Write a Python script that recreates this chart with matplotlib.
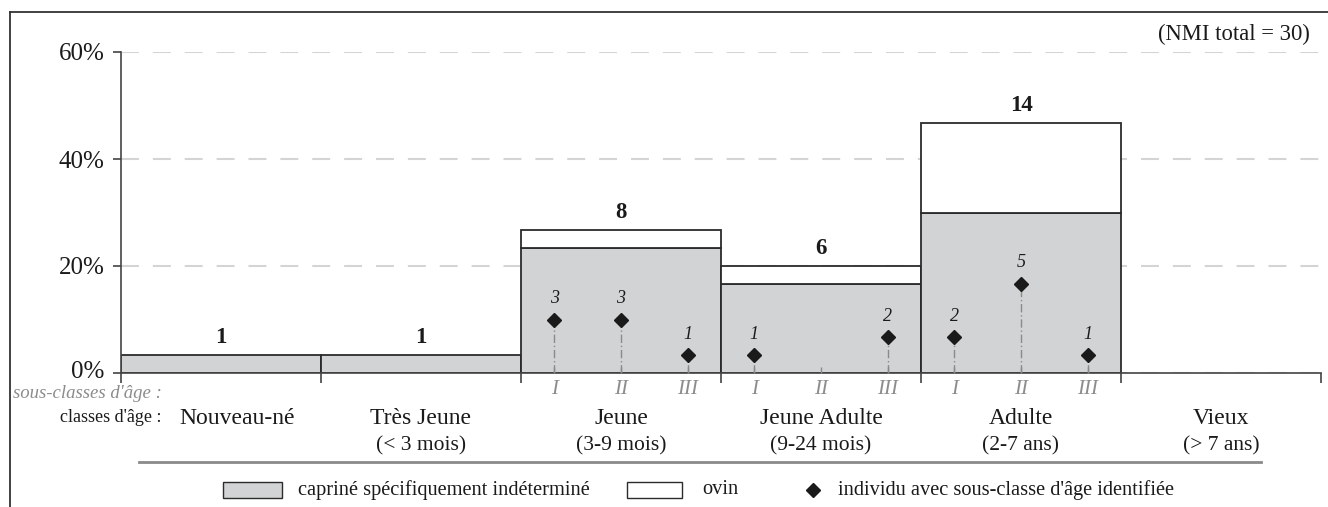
import matplotlib
matplotlib.use("Agg")
import matplotlib.pyplot as plt
from matplotlib import transforms
from matplotlib.patches import Rectangle
from matplotlib.lines import Line2D
from matplotlib.path import Path

plt.rcParams['font.family'] = ['Liberation Serif', 'DejaVu Serif']

# ---- data ----
classes = ["Nouveau-né", "Très Jeune", "Jeune", "Jeune Adulte", "Adulte", "Vieux"]
class_ranges = ["", "(< 3 mois)", "(3-9 mois)", "(9-24 mois)", "(2-7 ans)", "(> 7 ans)"]
caprine = [1, 1, 7, 5, 9, 0]      # capriné spécifiquement indéterminé
ovin = [0, 0, 1, 1, 5, 0]
nmi_total = 30
sub_classes = ["I", "II", "III"]
sub_class_of = [2, 3, 4]          # classes with sub-classes (Jeune, Jeune Adulte, Adulte)
sub_counts = [[3, 3, 1], [1, 0, 2], [2, 5, 1]]
yticks = [0, 20, 40, 60]

W, H = 1328, 507
fig = plt.figure(figsize=(W / 100, H / 100), dpi=100)
ax = fig.add_axes([121 / W, 1 - 373 / H, 1200 / W, 321 / H])

GRAY = "#d1d3d4"
EDGE = "#2b2b2b"
DARK = "#1a1a1a"
SUBGRAY = "#8c8c8c"

totals = [c + o for c, o in zip(caprine, ovin)]
pct_c = [c / nmi_total * 100 for c in caprine]
pct_o = [o / nmi_total * 100 for o in ovin]
xs = list(range(len(classes)))

for i in xs:
    if totals[i] == 0:
        continue
    ax.bar(i, pct_c[i], width=1, align='edge', color=GRAY, edgecolor=EDGE, linewidth=1.3, zorder=2)
    if ovin[i] > 0:
        ax.bar(i, pct_o[i], bottom=pct_c[i], width=1, align='edge', color='white',
               edgecolor=EDGE, linewidth=1.3, zorder=2)
    ax.annotate(str(totals[i]), (i + 0.5, pct_c[i] + pct_o[i]), xytext=(0, 5),
                textcoords='offset points', ha='center', va='bottom',
                fontsize=16.5, fontweight='bold', color=DARK, zorder=5)

# sub-class diamonds
tick_mark = Path([(0, 0), (0, 1)])
sub_off = [1 / 6, 1 / 2, 5 / 6]
for ci, counts in zip(sub_class_of, sub_counts):
    for k, n in enumerate(counts):
        x = ci + sub_off[k]
        y = n / nmi_total * 100
        ax.plot([x], [0], marker=tick_mark, markersize=8, color='#8a8a8a',
                markeredgewidth=1, zorder=3, clip_on=False)
        if n > 0:
            ax.plot([x, x], [0, y], color='#8a8a8a', linewidth=1, linestyle=(0, (6, 2, 1, 2)), zorder=3)
            ax.plot([x], [y], marker='D', markersize=7.6, color=DARK, zorder=4)
            ax.annotate(str(n), (x, y), xytext=(0, 9), textcoords='offset points',
                        ha='center', va='bottom', fontsize=13, fontstyle='italic', color=DARK, zorder=5)

ax.set_xlim(0, len(classes))
ax.set_ylim(0, 60)
ax.set_yticks(yticks)
ax.set_yticklabels([f"{v}%" for v in yticks], fontsize=18, color=DARK)
ax.set_xticks(range(len(classes) + 1))
ax.set_xticklabels([])
ax.tick_params(axis='y', direction='out', length=6, width=1.2, color='#444', pad=6)
ax.tick_params(axis='x', direction='out', length=7, width=1.2, color='#444')
# the 0% label sits slightly above its tick
zero_lbl = ax.get_yticklabels()[0]
zero_lbl.set_transform(zero_lbl.get_transform() +
                       transforms.ScaledTranslation(0, 4 / 100, fig.dpi_scale_trans))
zero_lbl.set_va('center_baseline')
for s in ['top', 'right']:
    ax.spines[s].set_visible(False)
for s in ['left', 'bottom']:
    ax.spines[s].set_color('#444')
    ax.spines[s].set_linewidth(1.2)
ax.yaxis.grid(True, linestyle=(0, (8.6, 6.7)), color='#d4d4d4', linewidth=1.5)
ax.set_axisbelow(True)
ax.patch.set_alpha(0)

def fy(px):
    return 1 - px / H

bt = transforms.blended_transform_factory(ax.transData, fig.transFigure)

# sub-class labels
for ci in sub_class_of:
    for k, s in enumerate(sub_classes):
        ax.text(ci + sub_off[k], fy(390), s, transform=bt, ha='center', va='center',
                fontsize=15, fontstyle='italic', color=SUBGRAY)

# class labels
for i, (c, r) in enumerate(zip(classes, class_ranges)):
    dx = 0.08 if i == 0 else 0
    ax.text(i + 0.5 + dx, fy(418), c, transform=bt, ha='center', va='center', fontsize=17, color=DARK)
    if r:
        ax.text(i + 0.5, fy(446), r, transform=bt, ha='center', va='center', fontsize=15.5, color=DARK)

fig.text(13 / W, fy(394), "sous-classes d'âge :", ha='left', va='center', fontsize=13.5,
         fontstyle='italic', color=SUBGRAY)
fig.text(162 / W, fy(418), "classes d'âge :", ha='right', va='center', fontsize=13, color=DARK)
fig.text(1310 / W, fy(34), "(NMI total = 30)", ha='right', va='center', fontsize=16.3, color=DARK)

# separator line
fig.add_artist(Line2D([139 / W, 1261 / W], [fy(462), fy(462)], color='#8a8a8a', linewidth=2))

# outer frame
fig.add_artist(Line2D([10 / W, 10 / W], [0, fy(12)], color='#333', linewidth=1.3))
fig.add_artist(Line2D([10 / W, 1], [fy(12), fy(12)], color='#333', linewidth=1.3))

# legend
fig.add_artist(Rectangle((223 / W, fy(498)), 59 / W, 16 / H, transform=fig.transFigure,
                         facecolor=GRAY, edgecolor=EDGE, linewidth=1))
fig.text(298 / W, fy(490), "capriné spécifiquement indéterminé", ha='left', va='center', fontsize=14.7, color=DARK)
fig.add_artist(Rectangle((627 / W, fy(498)), 55 / W, 16 / H, transform=fig.transFigure,
                         facecolor='white', edgecolor=EDGE, linewidth=1))
fig.text(702 / W, fy(490), "ovin", ha='left', va='center', fontsize=14.7, color=DARK)
fig.add_artist(Line2D([813 / W], [fy(490)], marker='D', markersize=7, color=DARK, linestyle='none'))
fig.text(838 / W, fy(490), "individu avec sous-classe d'âge identifiée", ha='left', va='center',
         fontsize=14.7, color=DARK)

fig.savefig("out.png", dpi=100)
